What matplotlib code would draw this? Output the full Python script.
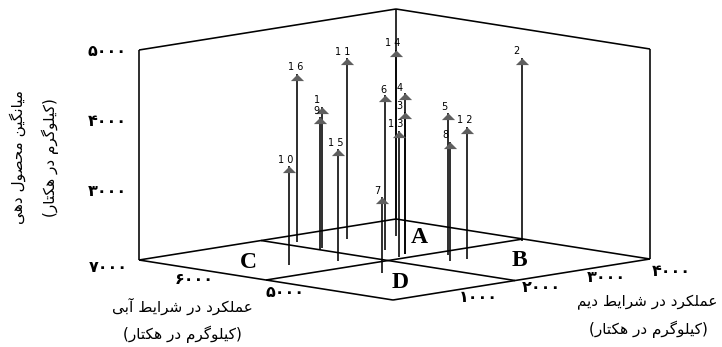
import numpy as np
import matplotlib
matplotlib.use("Agg")
import matplotlib.pyplot as plt
from matplotlib.path import Path

# values
labels = ["1", "2", "3", "4", "5", "6", "7", "8", "9", "1 0", "1 1", "1 2", "1 3", "1 4", "1 5", "1 6"]
rainfed = [2004, 3894, 2351, 2351, 2634, 2393, 1240, 2356, 1890, 914, 2640, 2585, 2157, 3165, 1490, 2105]
irrigated = [6359, 5431, 5643, 5643, 5350, 5911, 5071, 5113, 6297, 5922, 6546, 5088, 5566, 6366, 5780, 6731]
mean_yield = [4014, 4614, 4029, 4300, 4029, 4214, 3086, 3700, 3900, 3414, 4586, 3886, 3800, 4657, 3600, 4400]

z_ticks = [3000, 4000, 5000]
irrigated_ticks = [5000, 6000, 7000]
rainfed_ticks = [1000, 2000, 3000, 4000]

rainfed_split = 1900
irrigated_split = 5500

R_MIN, R_MAX = 0, 4000
I_MIN, I_MAX = 4000, 7000
Z_MIN, Z_MAX = 2000, 5000

# label offset from arrow tip, in pixels
label_offsets = {"1": (-5, -7), "2": (-6, -7), "3": (-6, -6), "4": (-5, -5), "5": (-4, -6), "6": (-2, -5),
                 "7": (-5, -6), "8": (-5, -7), "9": (-4, -6), "1 0": (-3, -6), "1 1": (-4, -6), "1 2": (-2, -7),
                 "1 3": (-3, -7), "1 4": (-3, -7), "1 5": (-2, -6), "1 6": (-1, -7)}

ISO, FIN, INI, MED = range(4)
FORMS = {
    "ا": (0xFE8D, 0xFE8E), "آ": (0xFE81, 0xFE82), "د": (0xFEA9, 0xFEAA), "ر": (0xFEAD, 0xFEAE), "و": (0xFEED, 0xFEEE),
    "ب": (0xFE8F, 0xFE90, 0xFE91, 0xFE92), "ت": (0xFE95, 0xFE96, 0xFE97, 0xFE98), "ح": (0xFEA1, 0xFEA2, 0xFEA3, 0xFEA4),
    "ش": (0xFEB5, 0xFEB6, 0xFEB7, 0xFEB8), "ص": (0xFEB9, 0xFEBA, 0xFEBB, 0xFEBC), "ط": (0xFEC1, 0xFEC2, 0xFEC3, 0xFEC4),
    "ع": (0xFEC9, 0xFECA, 0xFECB, 0xFECC), "ک": (0xFB8E, 0xFB8F, 0xFB90, 0xFB91), "گ": (0xFB92, 0xFB93, 0xFB94, 0xFB95),
    "ل": (0xFEDD, 0xFEDE, 0xFEDF, 0xFEE0), "م": (0xFEE1, 0xFEE2, 0xFEE3, 0xFEE4), "ن": (0xFEE5, 0xFEE6, 0xFEE7, 0xFEE8),
    "ه": (0xFEE9, 0xFEEA, 0xFEEB, 0xFEEC), "ی": (0xFBFC, 0xFBFD, 0xFBFE, 0xFBFF),
    "ئ": (0xFE89, 0xFE8A, 0xFE8B, 0xFE8C),
}
MIRROR = {"(": ")", ")": "("}


def shape(text):
    # matplotlib has no arabic shaping so pick the joined glyphs and flip the order
    out = []
    for n, c in enumerate(text):
        if c not in FORMS:
            out.append(MIRROR.get(c, c))
            continue
        prev = text[n - 1] if n > 0 else ""
        nxt = text[n + 1] if n + 1 < len(text) else ""
        join_prev = prev in FORMS and len(FORMS[prev]) == 4
        join_next = nxt in FORMS and len(FORMS[c]) == 4
        if join_prev and join_next:
            form = MED
        elif join_prev:
            form = FIN
        elif join_next:
            form = INI
        else:
            form = ISO
        out.append(chr(FORMS[c][form]))
    return "".join(reversed(out))


def fa_digits(n):
    return "".join(chr(0x06F0 + int(d)) for d in str(n))


def project(r, i, z=Z_MIN):
    # oblique projection of (rainfed, irrigated, yield) to picture pixels
    r, i, z = np.asarray(r, float), np.asarray(i, float), np.asarray(z, float)
    a = (r - R_MIN) / (R_MAX - R_MIN)
    b = (i - I_MIN) / (I_MAX - I_MIN)
    c = (z - Z_MIN) / (Z_MAX - Z_MIN)
    return 393 + 257 * a - 254 * b, 300 - 41 * a - 40 * b - 210 * c


def edge(ax, p, q, lw=1.15):
    x0, y0 = project(*p)
    x1, y1 = project(*q)
    ax.plot([x0, x1], [y0, y1], color="black", lw=lw, solid_capstyle="butt")


fig = plt.figure(figsize=(7.22, 3.47), dpi=100)
ax = fig.add_axes([0, 0, 1, 1])
ax.set_xlim(0, 722)
ax.set_ylim(347, 0)
ax.axis("off")

# floor
edge(ax, (R_MIN, I_MIN), (R_MAX, I_MIN))
edge(ax, (R_MIN, I_MIN), (R_MIN, I_MAX))
edge(ax, (R_MAX, I_MAX), (R_MAX, I_MIN))
edge(ax, (R_MAX, I_MAX), (R_MIN, I_MAX))
edge(ax, (rainfed_split, I_MIN), (rainfed_split, I_MAX))
edge(ax, (R_MIN, irrigated_split), (R_MAX, irrigated_split))

# walls
edge(ax, (R_MIN, I_MAX, Z_MIN), (R_MIN, I_MAX, Z_MAX))
edge(ax, (R_MAX, I_MAX, Z_MIN), (R_MAX, I_MAX, Z_MAX))
edge(ax, (R_MAX, I_MIN, Z_MIN), (R_MAX, I_MIN, Z_MAX))
edge(ax, (R_MIN, I_MAX, Z_MAX), (R_MAX, I_MAX, Z_MAX))
edge(ax, (R_MAX, I_MAX, Z_MAX), (R_MAX, I_MIN, Z_MAX))

# stems with arrow heads
arrow = Path([(-1, -1), (1, -1), (0, 0), (-1, -1)], closed=True)
base_x, base_y = project(rainfed, irrigated)
tip_x, tip_y = project(rainfed, irrigated, mean_yield)
ax.vlines(base_x, base_y, tip_y, color="black", lw=1.15)
ax.plot(tip_x, tip_y, ls="none", marker=arrow, ms=9.5, color="#5f5f5f", mew=0)
for name, x, y in zip(labels, tip_x, tip_y):
    dx, dy = label_offsets[name]
    ax.text(x + dx, y + dy, name, fontsize=7, ha="center", va="center", color="black", family="DejaVu Sans")

# quadrant letters
for letter, x, y in [("A", 419, 237), ("B", 519, 261), ("C", 248, 262), ("D", 400, 283)]:
    ax.text(x, y, letter, fontsize=17, fontweight="bold", family="Liberation Serif", ha="center", va="center")

# persian tick labels
tick_font = dict(fontsize=11.5, fontweight="bold", family="DejaVu Sans", ha="center", va="center")
for val in z_ticks:
    x, y = project(R_MIN, I_MAX, val)
    ax.text(x - 32, y + 1, fa_digits(val), **tick_font)
for val, (dx, dy) in zip(irrigated_ticks, [(-23, 6), (-29, 6), (-31, 7)]):
    x, y = project(R_MIN, val)
    ax.text(x + dx, y + dy, fa_digits(val), **tick_font)
for val, (dx, dy) in zip(rainfed_ticks, [(21, 8), (20, 8), (21, 8), (21, 12)]):
    x, y = project(val, I_MIN)
    ax.text(x + dx, y + dy, fa_digits(val), **tick_font)

# axis titles
title_font = dict(fontsize=11, family="DejaVu Sans", ha="center", va="center")
unit = "(کیلوگرم در هکتار)"
ax.text(18, 157, shape("میانگین محصول دهی"), rotation=90, **title_font)
ax.text(50, 158, shape(unit), rotation=90, **title_font)
ax.text(182, 306, shape("عملکرد در شرایط آبی"), **title_font)
ax.text(182, 334, shape(unit), **title_font)
ax.text(647, 302, shape("عملکرد در شرایط دیم"), **title_font)
ax.text(648, 329, shape(unit), **title_font)

fig.savefig("out.png", dpi=100)
plt.close(fig)
